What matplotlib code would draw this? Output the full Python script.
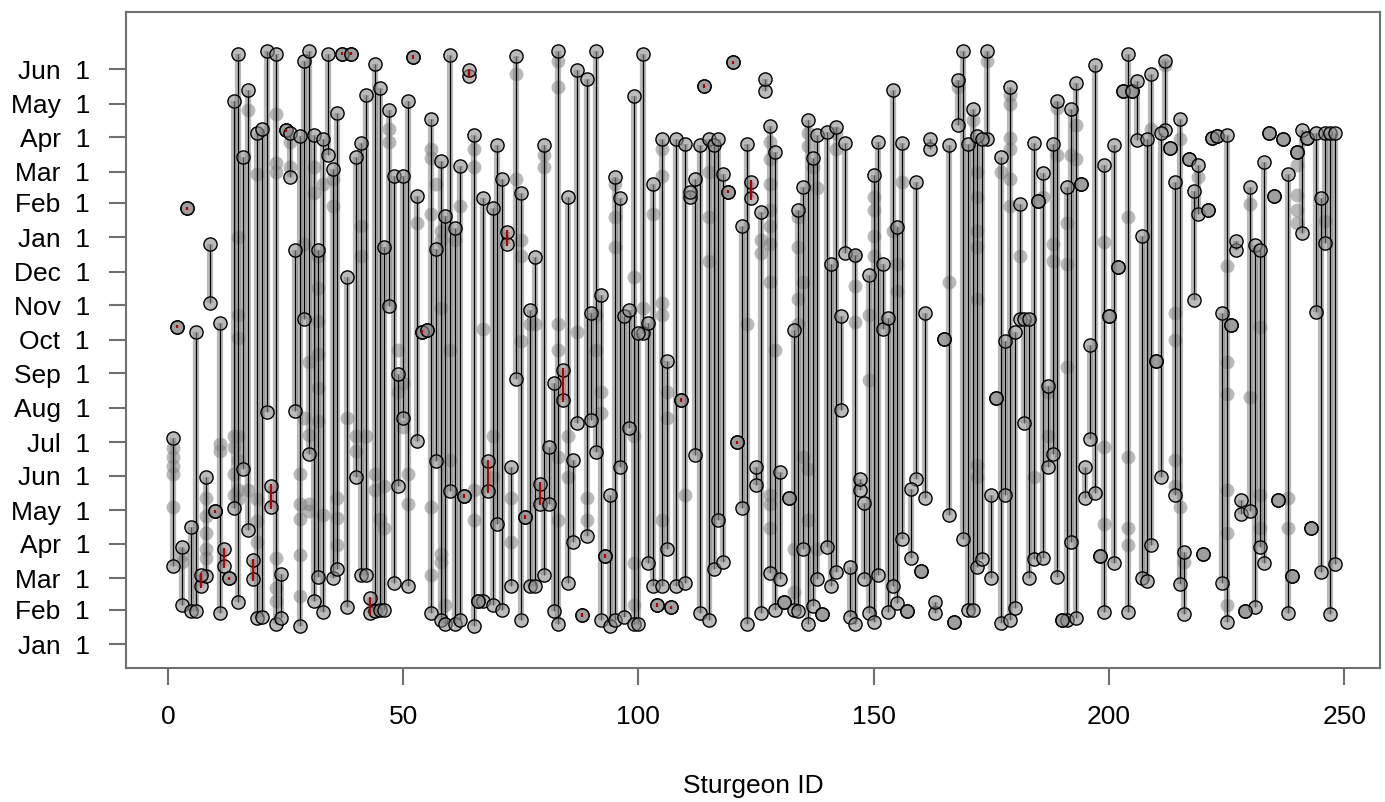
import numpy as np
import pandas as pd
import matplotlib
matplotlib.use('Agg')
import matplotlib.pyplot as plt

plt.rcParams['font.family'] = ['Liberation Sans', 'DejaVu Sans']

# dias contados a partir de 1 de janeiro do primeiro ano
ids = [1, 2, 3, 4, 5, 6, 7, 8, 9, 10, 11, 12, 13, 14, 15, 16, 17, 18, 19, 20,
       21, 22, 23, 24, 25, 26, 27, 28, 29, 30, 31, 32, 33, 34, 35, 36, 37, 38, 39, 40,
       41, 42, 43, 44, 45, 46, 47, 48, 49, 50, 51, 52, 53, 54, 55, 56, 57, 58, 59, 60,
       61, 62, 63, 64, 65, 66, 67, 68, 69, 70, 71, 72, 73, 74, 75, 76, 77, 78, 79, 80,
       81, 82, 83, 84, 85, 86, 87, 88, 89, 90, 91, 92, 93, 94, 95, 96, 97, 98, 99, 100,
       101, 102, 103, 104, 105, 106, 107, 108, 109, 110, 111, 112, 113, 114, 115, 116, 117, 118, 119, 120,
       121, 122, 123, 124, 125, 126, 127, 128, 129, 130, 131, 132, 133, 134, 135, 136, 137, 138, 139, 140,
       141, 142, 143, 144, 145, 146, 147, 148, 149, 150, 151, 152, 153, 154, 155, 156, 157, 158, 159, 160,
       161, 162, 163, 165, 166, 167, 168, 169, 170, 171, 172, 173, 174, 175, 176, 177, 178, 179, 180,
       181, 182, 183, 184, 185, 186, 187, 188, 189, 190, 191, 192, 193, 194, 195, 196, 197, 198, 199, 200,
       201, 202, 203, 204, 205, 206, 207, 208, 209, 210, 211, 212, 213, 214, 215, 216, 217, 218, 219, 220,
       221, 222, 223, 224, 225, 226, 227, 228, 229, 230, 231, 232, 233, 234, 235, 236, 237, 238, 239, 240,
       241, 242, 243, 244, 245, 246, 247, 248]

primeira = [70, 285, 35, 391, 30, 30, 52, 61, 306, 119, 28, 70, 59, 122, 38, 157, 102, 58, 23, 24,
            208, 123, 18, 23, 461, 419, 209, 16, 292, 171, 39, 60, 29, 439, 59, 67, 530, 33, 530, 150,
            62, 62, 28, 30, 31, 31, 303, 55, 142, 203, 52, 527, 182, 280, 282, 28, 164, 22, 18, 137,
            18, 22, 133, 510, 16, 39, 39, 137, 35, 108, 31, 359, 52, 238, 22, 114, 52, 52, 126, 62,
            126, 30, 18, 219, 55, 92, 198, 26, 97, 201, 172, 22, 79, 16, 22, 159, 24, 194, 18, 18,
            279, 73, 52, 35, 52, 85, 33, 52, 219, 55, 401, 170, 28, 501, 22, 67, 111, 74, 406, 522,
            181, 122, 18, 400, 143, 28, 496, 64, 31, 58, 38, 131, 31, 30, 85, 18, 34, 58, 27, 87,
            52, 65, 210, 351, 24, 18, 138, 58, 28, 20, 62, 283, 29, 52, 37, 94, 30, 77, 148, 66,
            131, 444, 28, 274, 116, 20, 466, 94, 31, 31, 69, 76, 453, 59, 221, 19, 134, 22, 32,
            292, 198, 59, 76, 398, 77, 159, 171, 60, 22, 22, 92, 23, 413, 131, 184, 136, 79, 29, 294,
            73, 338, 496, 29, 496, 452, 59, 57, 89, 254, 150, 461, 445, 134, 54, 27, 435, 309, 386, 81,
            390, 454, 456, 55, 20, 286, 354, 117, 30, 119, 33, 87, 73, 459, 402, 129, 453, 28, 61, 442,
            369, 454, 104, 298, 65, 360, 27, 72]

ultima = [185, 285, 87, 391, 105, 280, 62, 150, 359, 119, 288, 85, 59, 487, 530, 437, 497, 75, 459, 462,
          532, 142, 530, 63, 461, 459, 354, 456, 523, 532, 457, 354, 453, 530, 426, 477, 530, 329, 530, 437,
          450, 493, 41, 521, 499, 356, 479, 420, 242, 420, 487, 527, 402, 280, 282, 471, 355, 434, 384, 529,
          373, 429, 133, 515, 457, 39, 400, 164, 391, 448, 417, 370, 159, 528, 405, 114, 300, 347, 144, 448,
          177, 234, 532, 246, 401, 165, 515, 26, 507, 297, 532, 313, 79, 134, 419, 400, 294, 300, 492, 279,
          530, 288, 413, 35, 453, 254, 33, 453, 219, 449, 406, 417, 448, 501, 453, 448, 453, 422, 406, 522,
          181, 375, 449, 415, 159, 388, 507, 465, 442, 154, 38, 131, 282, 390, 410, 470, 436, 457, 27, 460,
          341, 464, 294, 450, 69, 349, 148, 127, 331, 421, 451, 341, 293, 497, 374, 450, 30, 139, 415, 66,
          297, 453, 38, 274, 448, 20, 506, 532, 449, 480, 456, 453, 532, 134, 221, 437, 272, 500, 280,
          395, 292, 292, 450, 398, 423, 232, 449, 487, 22, 410, 480, 504, 413, 159, 268, 520, 79, 430, 294,
          448, 338, 496, 530, 496, 505, 366, 453, 512, 254, 459, 523, 445, 415, 471, 83, 435, 407, 430, 81,
          390, 454, 456, 297, 457, 286, 362, 129, 30, 410, 358, 354, 433, 459, 402, 129, 453, 422, 61, 442,
          461, 454, 104, 459, 400, 459, 459, 459]

ids_vermelhos = [2, 4, 7, 10, 12, 13, 18, 22, 25, 37, 39, 43, 52, 54, 63, 64, 68, 72, 76, 79,
                 84, 88, 93, 104, 107, 109, 114, 119, 120, 121, 124]

# deteccoes intermediarias (pontos cinza)
deteccoes = {
    1: [176, 168, 160, 153, 123], 3: [80, 74], 8: [131, 115, 100, 85, 77], 11: [180, 173],
    14: [187, 177, 153, 134], 15: [365, 295, 275, 187, 165, 138, 130], 17: [479, 138],
    19: [422, 130, 110, 92], 23: [476, 432, 424, 77, 50, 39], 26: [451, 428],
    28: [153, 126, 112, 80, 43], 29: [359, 203], 30: [253, 188, 126, 119], 31: [428, 405],
    32: [348, 320, 290, 260, 230, 200], 33: [413, 116], 35: [417, 393], 36: [131, 113, 89],
    38: [203], 40: [187, 173], 41: [375, 348], 42: [187], 44: [153, 138], 45: [112],
    46: [142, 104], 47: [462, 451], 49: [264, 226], 50: [234, 195], 51: [153, 126], 53: [378],
    56: [444, 436, 386, 123, 62], 57: [413], 58: [371, 363, 302, 81, 74], 59: [35],
    60: [264, 165], 61: [363], 62: [393], 65: [444, 428, 138, 111], 67: [283], 69: [187, 150],
    73: [131, 92], 74: [512, 417], 75: [363, 348, 272], 77: [287], 78: [287], 80: [439, 428],
    83: [523, 500, 287, 264, 168, 111], 85: [187, 150], 87: [280], 89: [131, 111],
    91: [295, 264], 92: [226, 207], 95: [413, 383, 356], 99: [329, 187, 73, 35], 101: [302],
    103: [386], 105: [444, 420, 306, 295, 111], 106: [226, 203], 110: [134],
    115: [424, 383, 344], 123: [287], 126: [363, 351],
    128: [451, 435, 413, 390, 375, 359, 325, 134, 126, 104], 129: [264], 133: [85, 47],
    134: [383, 356, 310, 287], 135: [325, 168], 136: [459, 447, 157, 111], 137: [428],
    138: [409, 85], 142: [459, 444], 146: [348, 321, 289], 149: [295, 237],
    150: [401, 390, 366, 348], 154: [371], 155: [341, 317], 156: [415], 166: [325],
    168: [500], 171: [470], 172: [424, 401, 371, 356, 310, 161, 150], 174: [523], 177: [424],
    179: [493, 485, 454, 444, 417, 393], 181: [348], 184: [150], 186: [401], 187: [226, 187],
    188: [359, 344], 189: [481, 439], 191: [378, 341, 249], 192: [439], 193: [466, 435],
    199: [361, 177, 108], 204: [383, 168, 104, 89], 209: [462], 212: [520],
    214: [297, 273, 165, 142], 215: [453, 123], 216: [74], 219: [419],
    225: [339, 253, 224, 138, 100, 35], 230: [395, 222], 232: [285, 134, 104],
    238: [131, 104], 240: [430, 403, 390, 378], 246: [380],
}

meses = pd.date_range('2001-01-01', '2002-06-01', freq='MS')
dias_ticks = (meses - meses[0]).days
rotulos = [d.strftime('%b') + '  1' for d in meses]

ids = np.array(ids)
primeira = np.array(primeira)
ultima = np.array(ultima)
verm = np.isin(ids, ids_vermelhos)

cinza = (0.5, 0.5, 0.5, 0.55)

fig = plt.figure(figsize=(13.85, 8.02), dpi=100)
ax = fig.add_axes([126/1385, 1 - 668/802, (1380 - 126)/1385, (668 - 12)/802])

ax.vlines(ids, primeira, ultima, color=cinza, lw=4.5, zorder=1)
for i, dias in deteccoes.items():
    ax.plot([i]*len(dias), dias, 'o', ms=10, color=cinza, mec='none', zorder=2)
ax.vlines(ids[~verm], primeira[~verm], ultima[~verm], color='black', lw=0.9, zorder=3)
for d in (primeira, ultima):
    ax.plot(ids, d, 'o', ms=9.5, mfc=(0.55, 0.55, 0.55, 0.6), mec='black', mew=1.0, zorder=4)
ax.vlines(ids[verm], primeira[verm] - 1.5, ultima[verm] + 1.5, color='#b00000', lw=1.6, zorder=5)

ax.set_xlim(-8.9, 257.6)
ax.set_ylim(-21.5, 567.3)
ax.set_xticks(range(0, 251, 50))
ax.set_yticks(dias_ticks, rotulos)
ax.tick_params(length=12, width=1.5, color='#707070', labelsize=19)
ax.tick_params(axis='x', pad=15)
ax.tick_params(axis='y', pad=14)
for s in ax.spines.values():
    s.set_color('#707070')
    s.set_linewidth(1.5)

fig.text((126 + 1380)/2/1385, 1 - 786/802, 'Sturgeon ID', ha='center', va='center', fontsize=19)

plt.savefig('out.png', dpi=100)
